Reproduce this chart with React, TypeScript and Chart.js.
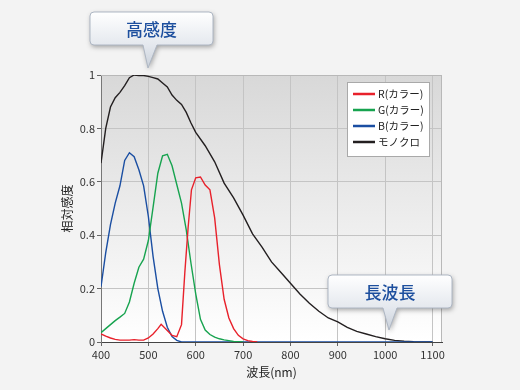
import React, { useEffect, useRef } from "react";
import { Chart, registerables } from "chart.js";

Chart.register(...registerables);

// ---------- data ----------
const seriesLabels = ["R(カラー)", "G(カラー)", "B(カラー)", "モノクロ"];
const seriesColors = ["#e8212b", "#17a34f", "#1a4ea2", "#231f20"];

const redNm = [400, 410, 420, 430, 440, 450, 460, 470, 480, 490, 500, 510, 520, 527, 540, 550, 560, 570, 577, 584, 591, 600, 610, 620, 630, 640, 650, 660, 670, 680, 690, 700, 710, 720, 730];
const redVal = [0.03, 0.022, 0.015, 0.01, 0.007, 0.007, 0.007, 0.009, 0.007, 0.007, 0.015, 0.03, 0.05, 0.066, 0.043, 0.025, 0.02, 0.065, 0.26, 0.43, 0.57, 0.615, 0.618, 0.588, 0.57, 0.465, 0.29, 0.16, 0.09, 0.05, 0.025, 0.012, 0.005, 0.002, 0];

const greenNm = [400, 410, 420, 430, 440, 450, 460, 470, 480, 490, 500, 510, 520, 530, 540, 550, 560, 570, 580, 590, 600, 610, 620, 630, 640, 650, 660, 670, 680, 700];
const greenVal = [0.035, 0.05, 0.065, 0.08, 0.093, 0.107, 0.15, 0.22, 0.28, 0.31, 0.38, 0.505, 0.632, 0.697, 0.703, 0.66, 0.59, 0.52, 0.42, 0.295, 0.18, 0.085, 0.045, 0.028, 0.018, 0.012, 0.008, 0.005, 0.002, 0];

const blueNm = [400, 410, 420, 430, 440, 450, 460, 470, 480, 490, 500, 510, 520, 530, 540, 550, 560, 570, 1100];
const blueVal = [0.207, 0.335, 0.44, 0.52, 0.585, 0.68, 0.709, 0.694, 0.645, 0.585, 0.47, 0.32, 0.2, 0.115, 0.055, 0.02, 0.006, 0, 0];

const monoNm = [400, 410, 420, 430, 440, 450, 460, 470, 480, 490, 500, 510, 520, 530, 540, 550, 560, 570, 580, 590, 600, 620, 640, 660, 680, 700, 720, 740, 760, 780, 800, 820, 840, 860, 880, 900, 920, 940, 960, 980, 1000, 1020, 1040, 1060, 1080, 1100];
const monoVal = [0.67, 0.8, 0.88, 0.915, 0.935, 0.96, 0.99, 1.0, 0.998, 0.998, 0.995, 0.99, 0.985, 0.97, 0.955, 0.925, 0.905, 0.89, 0.86, 0.82, 0.785, 0.735, 0.675, 0.595, 0.54, 0.475, 0.405, 0.355, 0.3, 0.26, 0.22, 0.18, 0.145, 0.115, 0.09, 0.075, 0.055, 0.04, 0.03, 0.02, 0.012, 0.006, 0.003, 0.001, 0, 0];

const xMin = 400;
const xMax = 1120;
const xStep = 100;
const yMin = 0;
const yMax = 1;
const yStep = 0.2;

const xTitle = "波長(nm)";
const yTitle = "相対感度";
const calloutTexts = ["高感度", "長波長"];

const FONT = "'Noto Sans CJK JP', 'Noto Sans', sans-serif";

function toPoints(xs: number[], ys: number[]) {
  return xs.map((x, i) => ({ x, y: ys[i] }));
}

function drawCallout(
  ctx: CanvasRenderingContext2D,
  x: number, y: number, w: number, h: number,
  px1: number, px2: number, tipX: number, tipY: number,
  text: string
) {
  const r = 4;
  ctx.save();
  ctx.beginPath();
  ctx.moveTo(x + r, y);
  ctx.lineTo(x + w - r, y);
  ctx.quadraticCurveTo(x + w, y, x + w, y + r);
  ctx.lineTo(x + w, y + h - r);
  ctx.quadraticCurveTo(x + w, y + h, x + w - r, y + h);
  ctx.lineTo(px2, y + h);
  ctx.lineTo(tipX, tipY);
  ctx.lineTo(px1, y + h);
  ctx.lineTo(x + r, y + h);
  ctx.quadraticCurveTo(x, y + h, x, y + h - r);
  ctx.lineTo(x, y + r);
  ctx.quadraticCurveTo(x, y, x + r, y);
  ctx.closePath();
  const g = ctx.createLinearGradient(0, y, 0, tipY);
  g.addColorStop(0, "#ffffff");
  g.addColorStop(0.6, "#e4e8ee");
  g.addColorStop(1, "#c9d0da");
  ctx.shadowColor = "rgba(0,0,0,0.35)";
  ctx.shadowBlur = 5;
  ctx.shadowOffsetX = 1;
  ctx.shadowOffsetY = 2;
  ctx.fillStyle = g;
  ctx.fill();
  ctx.shadowColor = "transparent";
  ctx.strokeStyle = "#aeb7c4";
  ctx.lineWidth = 1;
  ctx.stroke();
  ctx.fillStyle = "#1d4f9e";
  ctx.font = `500 17px ${FONT}`;
  ctx.textAlign = "center";
  ctx.textBaseline = "middle";
  ctx.fillText(text, x + w / 2, y + h / 2 + 1);
  ctx.restore();
}

const decorPlugin = {
  id: "decor",
  beforeDraw(chart: any) {
    const { ctx, chartArea } = chart;
    const { left, top, right, bottom } = chartArea;
    ctx.save();
    ctx.fillStyle = "#f3f3f3";
    ctx.fillRect(0, 0, chart.width, chart.height);
    const g = ctx.createLinearGradient(0, top, 0, bottom);
    g.addColorStop(0, "#d8d8d8");
    g.addColorStop(1, "#ffffff");
    ctx.fillStyle = g;
    ctx.fillRect(left, top, right - left, bottom - top);
    ctx.restore();
  },
  beforeDatasetsDraw(chart: any) {
    const { ctx, chartArea } = chart;
    const { left, top, right, bottom } = chartArea;
    ctx.save();
    ctx.strokeStyle = "#b8b8b8";
    ctx.lineWidth = 1;
    ctx.beginPath();
    ctx.moveTo(left, top + 0.5);
    ctx.lineTo(right, top + 0.5);
    ctx.moveTo(Math.round(right) - 0.5, top);
    ctx.lineTo(Math.round(right) - 0.5, bottom);
    ctx.stroke();
    ctx.restore();
  },
  afterDraw(chart: any) {
    const { ctx } = chart;
    // legend
    ctx.save();
    ctx.fillStyle = "#ffffff";
    ctx.fillRect(347, 82, 82, 74);
    ctx.strokeStyle = "#a9a9a9";
    ctx.lineWidth = 1;
    ctx.strokeRect(347.5, 82.5, 82, 74);
    ctx.font = `10.5px ${FONT}`;
    ctx.textBaseline = "middle";
    ctx.textAlign = "left";
    chart.data.datasets.forEach((ds: any, i: number) => {
      const yy = 94 + i * 16;
      ctx.strokeStyle = ds.borderColor;
      ctx.lineWidth = 2.5;
      ctx.beginPath();
      ctx.moveTo(353, yy);
      ctx.lineTo(375, yy);
      ctx.stroke();
      ctx.fillStyle = "#222";
      ctx.fillText(ds.label, 378, yy);
    });
    ctx.restore();
    // callouts
    drawCallout(ctx, 90, 12, 123, 33, 143, 157, 148, 68, calloutTexts[0]);
    drawCallout(ctx, 328, 275, 124, 33, 383, 397, 389, 330, calloutTexts[1]);
  },
};

export default function App() {
  const ref = useRef<HTMLCanvasElement>(null);
  useEffect(() => {
    document.body.style.margin = "0";
    document.body.style.background = "#f3f3f3";
    const canvas = ref.current!;
    const chart = new Chart(canvas, {
      type: "line",
      data: {
        datasets: [
          { label: seriesLabels[0], data: toPoints(redNm, redVal), borderColor: seriesColors[0] },
          { label: seriesLabels[1], data: toPoints(greenNm, greenVal), borderColor: seriesColors[1] },
          { label: seriesLabels[2], data: toPoints(blueNm, blueVal), borderColor: seriesColors[2] },
          { label: seriesLabels[3], data: toPoints(monoNm, monoVal), borderColor: seriesColors[3] },
        ] as any,
      },
      options: {
        responsive: false,
        animation: false,
        devicePixelRatio: 1,
        elements: {
          point: { radius: 0 },
          line: { borderWidth: 1.4, tension: 0, fill: false },
        },
        layout: { padding: { top: 75, left: 0, right: 78, bottom: 0 } },
        plugins: {
          legend: { display: false },
          tooltip: { enabled: false },
        },
        font: { family: FONT },
        scales: {
          x: {
            type: "linear",
            min: xMin,
            max: xMax,
            afterFit: (s: any) => { s.height = 48; },
            ticks: {
              stepSize: xStep,
              includeBounds: false,
              autoSkip: false,
              maxRotation: 0,
              padding: 2,
              color: "#333",
              font: { family: FONT, size: 11 },
              callback: (v: any) => String(v),
            },
            grid: { color: "#c4c4c4", lineWidth: 1, tickLength: 4, tickColor: "#666" },
            border: { color: "#444", width: 1 },
            title: {
              display: true,
              text: xTitle,
              color: "#222",
              font: { family: FONT, size: 12 },
              padding: { top: 0, bottom: 10 },
            },
          },
          y: {
            type: "linear",
            min: yMin,
            max: yMax,
            afterFit: (s: any) => { s.width = 101; },
            ticks: {
              stepSize: yStep,
              padding: 2,
              color: "#333",
              font: { family: FONT, size: 11 },
              callback: (v: any) => String(Math.round(Number(v) * 10) / 10),
            },
            grid: { color: "#c4c4c4", lineWidth: 1, tickLength: 4, tickColor: "#666" },
            border: { color: "#777", width: 1 },
            title: {
              display: true,
              text: yTitle,
              color: "#222",
              font: { family: FONT, size: 12 },
              padding: { top: 60, bottom: 0 },
            },
          },
        },
      } as any,
      plugins: [decorPlugin],
    });
    return () => chart.destroy();
  }, []);
  return (
    <div style={{ width: 520, height: 390, background: "#f3f3f3" }}>
      <canvas ref={ref} width={520} height={390} style={{ display: "block" }} />
    </div>
  );
}
